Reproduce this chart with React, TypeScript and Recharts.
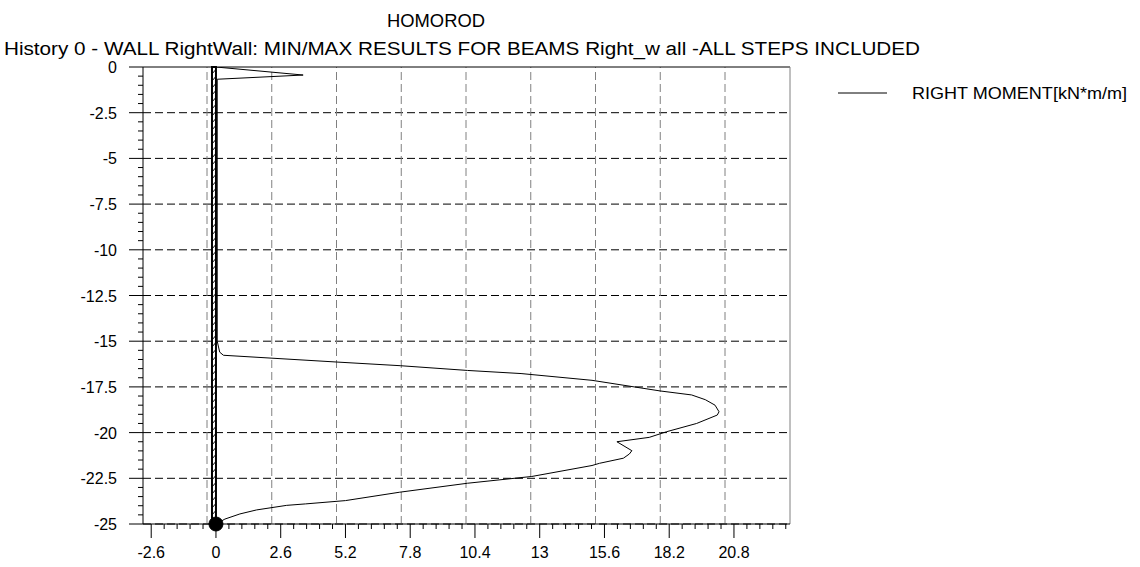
import React from 'react';
import { ScatterChart, Scatter, XAxis, YAxis, ReferenceLine, ReferenceArea, ReferenceDot, Legend } from 'recharts';

const FONT = '"Liberation Sans", Arial, sans-serif';

// depth along the wall [m] and the right moment at that depth [kN*m/m]
const depth = [
  0, -0.44, -0.67, -15.0, -15.6, -15.77, -16.14, -16.34, -16.6, -16.77, -17.14, -17.72, -17.94, -18.2,
  -18.5, -18.86, -19.04, -19.5, -19.95, -20.26, -20.5, -20.99, -21.17, -21.4, -21.68, -21.8, -22.4,
  -22.77, -23.26, -23.72, -23.9, -23.98, -24.23, -24.45, -24.73, -25,
];
const rightMoment = [
  0, 3.5, 0.05, 0.05, 0.15, 0.3, 4.85, 7.4, 10.1, 12.25, 15.1, 17.83, 19.1, 19.65,
  20.04, 20.2, 20.13, 19.3, 18.1, 17.4, 16.1, 16.7, 16.6, 16.36, 15.4, 15.1, 12.68,
  10.1, 7.38, 5.2, 3.6, 2.84, 1.63, 0.96, 0.36, 0,
];

const xMajorTicks = [-2.6, 0, 2.6, 5.2, 7.8, 10.4, 13, 15.6, 18.2, 20.8];
const yMajorTicks = [0, -2.5, -5, -7.5, -10, -12.5, -15, -17.5, -20, -22.5, -25];
// the program draws its vertical grid a little left of the tick marks
const xGridValues = [-0.36, 2.24, 4.84, 7.44, 10.04, 12.64, 15.24, 17.84, 20.44];

const X_DOMAIN: [number, number] = [-2.93, 23.05];
const Y_DOMAIN: [number, number] = [-25, 0];

const points = depth.map((z, i) => ({ z, m: rightMoment[i] }));

// 4 minor ticks between each pair of majors
const xTicks: number[] = [];
xMajorTicks.forEach((t) => {
  for (let k = 0; k < 5; k++) {
    const v = +(t + k * 0.52).toFixed(2);
    if (v <= X_DOMAIN[1]) xTicks.push(v);
  }
});
const yTicks: number[] = [];
yMajorTicks.forEach((t) => {
  for (let k = 0; k < 5; k++) {
    const v = +(t - k * 0.5).toFixed(2);
    if (v >= Y_DOMAIN[0]) yTicks.push(v);
  }
});

const findMajor = (list: number[], v: number) => list.find((t) => Math.abs(t - v) < 1e-6);

function XTick(props: any) {
  const { x, y, payload } = props;
  const major = findMajor(xMajorTicks, payload.value);
  const isMajor = major !== undefined;
  return (
    <g>
      <line x1={x} x2={x} y1={y} y2={y + (isMajor ? 14 : 5)} stroke="#000" strokeWidth={1} />
      {isMajor && (
        <text x={x} y={y + 34} textAnchor="middle" fontSize={16} fontFamily={FONT} fill="#000">
          {String(major)}
        </text>
      )}
    </g>
  );
}

function YTick(props: any) {
  const { x, y, payload } = props;
  const major = findMajor(yMajorTicks, payload.value);
  const isMajor = major !== undefined;
  return (
    <g>
      <line x1={x} x2={x - (isMajor ? 14 : 5)} y1={y} y2={y} stroke="#000" strokeWidth={1} />
      {isMajor && (
        <text x={x - 26} y={y + 6} textAnchor="end" fontSize={16} fontFamily={FONT} fill="#000">
          {String(major)}
        </text>
      )}
    </g>
  );
}

const noShape = () => <g />;

// hatched wall drawn inside the box the ReferenceArea gets from the scales
function WallShape(props: any) {
  const { x, y, width, height } = props;
  return (
    <g>
      <defs>
        <pattern id="wallHatch" patternUnits="userSpaceOnUse" x={x} y={y} width={6} height={7}>
          <rect width={6} height={7} fill="#fff" />
          <path d="M-1,8 L7,-1" stroke="#000" strokeWidth={1} />
        </pattern>
      </defs>
      <rect x={x} y={y} width={width} height={height} fill="url(#wallHatch)" stroke="#000" strokeWidth={2} />
    </g>
  );
}

function LegendBox() {
  return (
    <svg width={300} height={30} style={{ display: 'block' }}>
      <line x1={8} x2={57} y1={15} y2={15} stroke="#000" strokeWidth={1} />
      <text x={82} y={20.5} fontSize={16} fontFamily={FONT} fill="#000" textLength={215} lengthAdjust="spacingAndGlyphs">
        RIGHT MOMENT[kN*m/m]
      </text>
    </svg>
  );
}

export default function App() {
  return (
    <div style={{ position: 'absolute', left: 0, top: 0, width: 1140, height: 567, background: '#fff' }}>
      <svg width={1140} height={70} style={{ position: 'absolute', left: 0, top: 0, pointerEvents: 'none' }}>
        <text x={436} y={27} textAnchor="middle" fontSize={18} fontFamily={FONT} fill="#000" textLength={98} lengthAdjust="spacingAndGlyphs">
          HOMOROD
        </text>
        <text x={4} y={55} fontSize={18} fontFamily={FONT} fill="#000" textLength={916} lengthAdjust="spacingAndGlyphs">
          History 0 - WALL RightWall: MIN/MAX RESULTS FOR BEAMS Right_w all -ALL STEPS INCLUDED
        </text>
      </svg>
      <ScatterChart width={1140} height={567} margin={{ top: 67, right: 350, bottom: 3, left: 83 }}>
        <XAxis
          type="number"
          dataKey="m"
          domain={X_DOMAIN}
          ticks={xTicks}
          interval={0}
          allowDataOverflow
          height={40}
          tickSize={0}
          tickMargin={0}
          tickLine={false}
          tick={<XTick />}
          axisLine={{ stroke: '#000', strokeWidth: 1 }}
        />
        <YAxis
          type="number"
          dataKey="z"
          domain={Y_DOMAIN}
          ticks={yTicks}
          interval={0}
          allowDataOverflow
          width={60}
          tickSize={0}
          tickMargin={0}
          tickLine={false}
          tick={<YTick />}
          axisLine={{ stroke: '#000', strokeWidth: 1 }}
        />
        {yMajorTicks.slice(1).map((v) => (
          <ReferenceLine key={'h' + v} y={v} stroke="#000" strokeWidth={1} strokeDasharray="8 4" />
        ))}
        {xGridValues.map((v) => (
          <ReferenceLine key={'v' + v} x={v} stroke="#808080" strokeWidth={1} strokeDasharray="8 4" />
        ))}
        <ReferenceLine y={0} stroke="#000" strokeWidth={1} />
        <ReferenceLine x={X_DOMAIN[1]} stroke="#808080" strokeWidth={1} />
        <Scatter
          name="RIGHT MOMENT[kN*m/m]"
          data={points}
          line={{ stroke: '#000', strokeWidth: 1 }}
          lineType="joint"
          shape={noShape}
          legendType="line"
          isAnimationActive={false}
        />
        <ReferenceArea x1={-0.16} x2={0} y1={-25} y2={0} shape={<WallShape />} />
        <ReferenceDot x={0} y={-25} r={7} fill="#000" stroke="#000" />
        <Legend
          layout="vertical"
          align="center"
          verticalAlign="middle"
          content={<LegendBox />}
          wrapperStyle={{ left: 830, top: 78, width: 300, height: 30 }}
        />
      </ScatterChart>
    </div>
  );
}
